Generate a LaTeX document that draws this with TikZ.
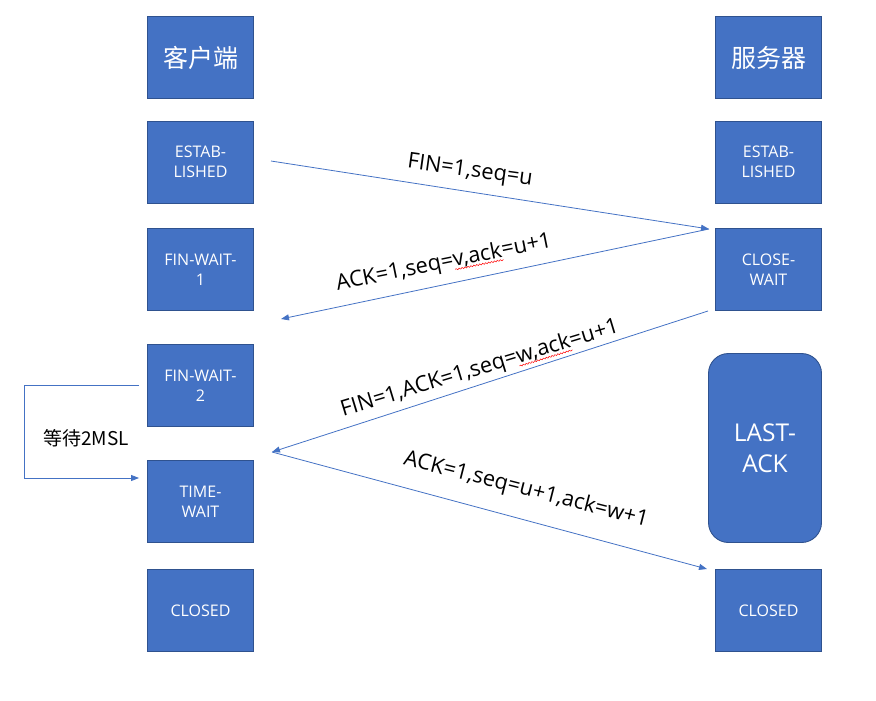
\documentclass[tikz,border=0pt]{standalone}
\usepackage{fontspec}
\setmainfont{Open Sans}
\newfontfamily\cjk{Noto Sans CJK SC}
\usetikzlibrary{arrows.meta,decorations.pathmorphing}
\definecolor{boxfill}{RGB}{68,114,196}
\definecolor{boxline}{RGB}{47,82,143}
\definecolor{arrowc}{RGB}{68,114,196}
\newsavebox\squigbox
\newcommand\squig[1]{\sbox\squigbox{#1}\rlap{\tikz[baseline=0pt]\draw[red,line width=0.5pt,decorate,decoration={snake,amplitude=0.7pt,segment length=3pt}] (0pt,-3pt)--(\wd\squigbox,-3pt);}\usebox\squigbox}
\tikzset{
 statebox/.style={draw=boxline, line width=0.9pt, fill=boxfill, minimum width=106pt, minimum height=82pt, inner sep=0pt, text=white, align=center, font=\fontsize{16}{20}\selectfont},
 titlebox/.style={statebox, font=\cjk\fontsize{25}{30}\selectfont},
 lastbox/.style={statebox, rounded corners=20pt, minimum width=113pt, minimum height=189pt, font=\fontsize{24.5}{31}\selectfont},
 msg/.style={draw=arrowc, line width=0.8pt, -{Triangle[length=8pt,width=6pt]}},
 lbl/.style={font=\fontsize{21.8}{25}\selectfont, inner sep=0pt, text=black},
 cjklbl/.style={font=\cjk\fontsize{19}{23}\selectfont, inner sep=0pt, text=black}
}
\begin{document}
\begin{tikzpicture}[x=1pt,y=-1pt]
\useasboundingbox (0,0) rectangle (876,701);
% client column
\node[titlebox] (client) at (200.5,57.5) {客户端};
\node[statebox] (est1) at (200.5,162) {ESTAB-\\LISHED};
\node[statebox] (fw1) at (200.5,269.5) {FIN-WAIT-\\1};
\node[statebox] (fw2) at (200.5,385.5) {FIN-WAIT-\\2};
\node[statebox] (tw) at (200.5,501.5) {TIME-\\WAIT};
\node[statebox] (cc) at (200.5,610.5) {CLOSED};
% server column
\node[titlebox] (server) at (768.5,57.5) {服务器};
\node[statebox] (est2) at (768.5,162) {ESTAB-\\LISHED};
\node[statebox] (cw) at (768.5,269.5) {CLOSE-\\WAIT};
\node[lastbox] (la) at (765,448) {LAST-\\ACK};
\node[statebox] (sc) at (768.5,610.5) {CLOSED};
% message end points
\coordinate (p1) at (271,161);
\coordinate (p2) at (709,229);
\coordinate (p3) at (281,319);
\coordinate (p4) at (708,311);
\coordinate (p5) at (272,452);
\coordinate (p6) at (707,569);
\draw[msg] (p1) -- (p2);
\draw[msg] (p2) -- (p3);
\draw[msg] (p4) -- (p5);
\draw[msg] (p5) -- (p6);
% labels
\node[lbl, rotate=-8] (l1) at (470,171.5) {FIN=1,seq=u};
\node[lbl, rotate=11.5] (l2) at (444,263) {ACK=1,seq=\squig{v,ack}=u+1};
\node[lbl, rotate=16.9] (l3) at (480,369) {FIN=1,ACK=1,seq=\squig{w,ack}=u+1};
\node[lbl, rotate=-14.3] (l4) at (526,490) {ACK=1,seq=u+1,ack=w+1};
% wait 2MSL
\draw[msg] ([xshift=-8pt]fw2.west) -- ++(-115,0) |- ([shift={(-8,-23.5)}]tw.west);
\node[cjklbl] (wait) at (86,438) {等待2MSL};
\end{tikzpicture}
\end{document}
